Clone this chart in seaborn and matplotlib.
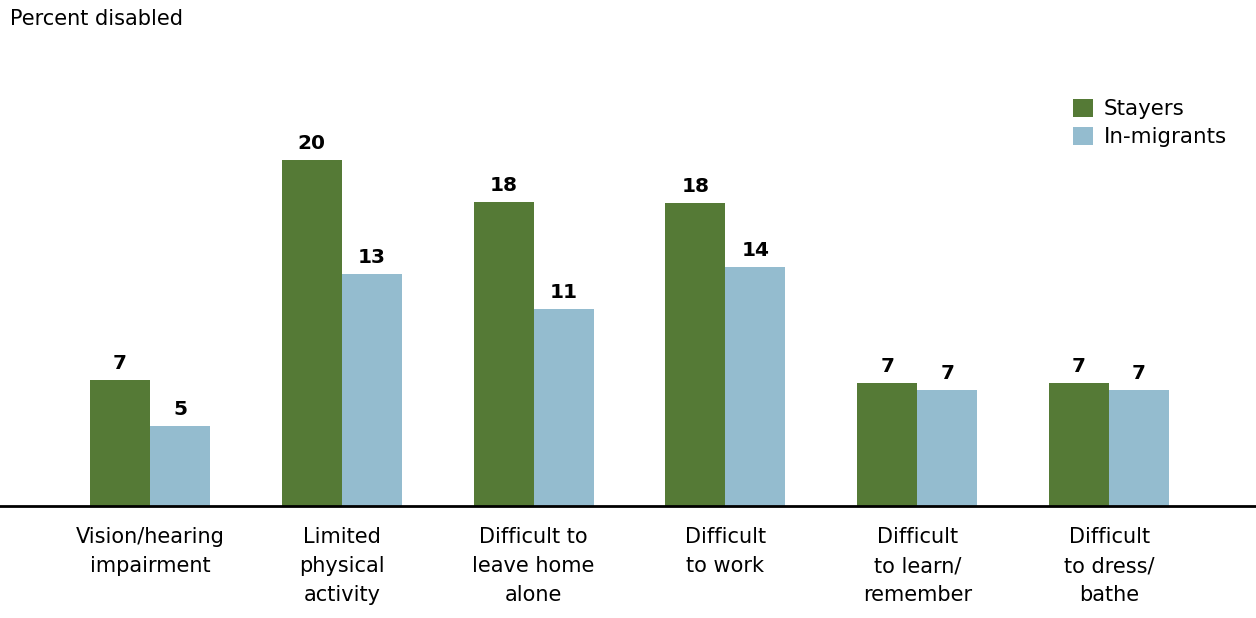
import matplotlib
matplotlib.use("Agg")
import matplotlib.pyplot as plt
import seaborn as sns
import pandas as pd

categories = [
    "Vision/hearing\nimpairment",
    "Limited\nphysical\nactivity",
    "Difficult to\nleave home\nalone",
    "Difficult\nto work",
    "Difficult\nto learn/\nremember",
    "Difficult\nto dress/\nbathe",
]
stayers = [7.3, 20.0, 17.6, 17.5, 7.1, 7.1]
in_migrants = [4.6, 13.4, 11.4, 13.8, 6.7, 6.7]
groups = ["Stayers", "In-migrants"]
colors = ["#557a36", "#94bccf"]

df = pd.DataFrame({
    "category": categories * 2,
    "group": [groups[0]] * len(categories) + [groups[1]] * len(categories),
    "value": stayers + in_migrants,
})

sns.set_theme(style="white")
plt.rcParams["font.family"] = ["DejaVu Sans"]
plt.rcParams["text.color"] = "black"

fig = plt.figure(figsize=(12.56, 6.18), dpi=100)
ax = fig.add_axes([0, 112 / 618, 1, 466 / 618])

sns.barplot(data=df, x="category", y="value", hue="group", order=categories,
            hue_order=groups, palette=colors, width=0.626, saturation=1,
            linewidth=0, ax=ax, legend=True)

for container in ax.containers:
    ax.bar_label(container, fmt="%.0f", padding=5, fontsize=14.5,
                 fontweight="bold", color="black")

ax.set_xlim(-0.782, 5.766)
ax.set_ylim(0, 26.94)
ax.set_xlabel("")
ax.set_ylabel("")
ax.set_yticks([])
for side in ["top", "right", "left"]:
    ax.spines[side].set_visible(False)
ax.spines["bottom"].set_linewidth(2)
ax.spines["bottom"].set_color("black")
ax.tick_params(axis="x", length=0, pad=15, labelsize=15, labelcolor="black")
for lbl in ax.get_xticklabels():
    lbl.set_linespacing(1.58)
    lbl.set_verticalalignment("top")

handles, labels = ax.get_legend_handles_labels()
ax.legend(handles, labels, loc="upper left", bbox_to_anchor=(1062 / 1256, 1 - 88 / 618),
          bbox_transform=fig.transFigure, frameon=False, fontsize=15.4,
          labelcolor="black", handlelength=0.95, handleheight=0.95,
          handletextpad=0.5, labelspacing=0.35, borderpad=0)

fig.text(10 / 1256, 1 - 19 / 618, "Percent disabled", fontsize=15,
         ha="left", va="center", color="black")

fig.savefig("out.png", dpi=100, facecolor="white")
